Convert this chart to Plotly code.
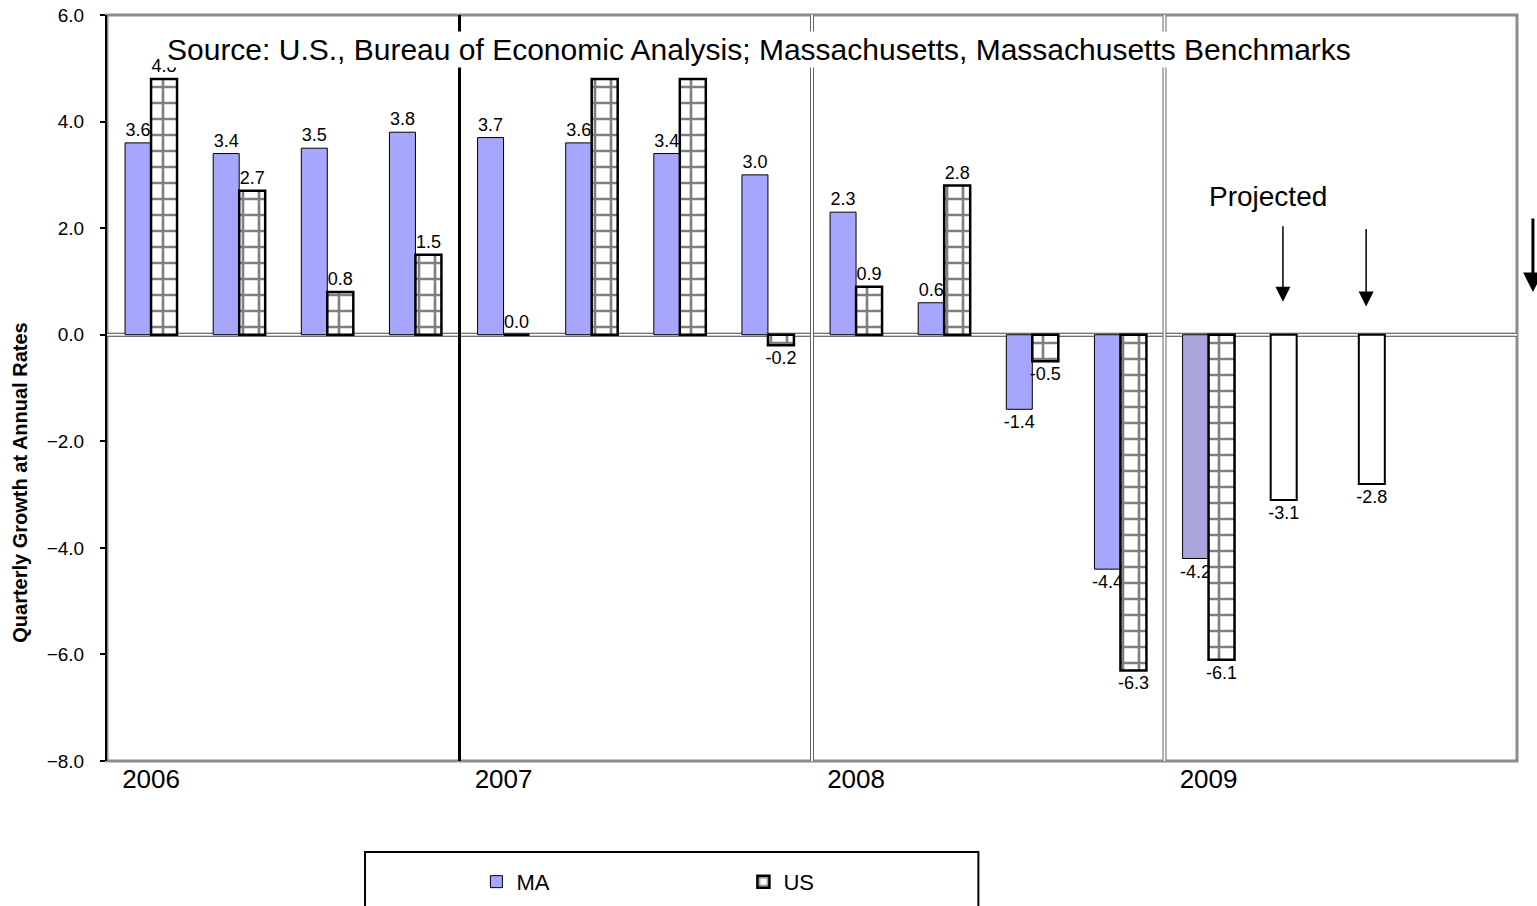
import plotly.graph_objects as go

quarters = ["2006 Q1", "2006 Q2", "2006 Q3", "2006 Q4",
            "2007 Q1", "2007 Q2", "2007 Q3", "2007 Q4",
            "2008 Q1", "2008 Q2", "2008 Q3", "2008 Q4",
            "2009 Q1", "2009 Q2", "2009 Q3", "2009 Q4"]
ma_values = [3.6, 3.4, 3.5, 3.8, 3.7, 3.6, 3.4, 3.0, 2.3, 0.6, -1.4, -4.4, -4.2, -3.1, -2.8, None]
us_values = [4.8, 2.7, 0.8, 1.5, 0.0, 4.8, 4.8, -0.2, 0.9, 2.8, -0.5, -6.3, -6.1, None, None, None]
us_labels = ["4.8", "2.7", "0.8", "1.5", "0.0", "", "", "-0.2", "0.9", "2.8", "-0.5", "-6.3", "-6.1", "", "", ""]
year_ticks = ["2006 Q1", "2007 Q1", "2008 Q1", "2009 Q1"]
year_labels = ["2006", "2007", "2008", "2009"]

ma_colors = ["#A6A6FF"] * 12 + ["#A9A5DC", "#FFFFFF", "#FFFFFF", "#FFFFFF"]
ma_line_w = [1] * 13 + [2, 2, 2]
ma_labels = ["" if v is None else f"{v:.1f}" for v in ma_values]

FONT = "Liberation Sans, Arial, sans-serif"

fig = go.Figure()
fig.add_trace(go.Bar(
    name="MA", x=quarters, y=ma_values, text=ma_labels,
    textposition="outside", constraintext="none", cliponaxis=False,
    textfont=dict(size=18, color="black", family=FONT),
    marker=dict(color=ma_colors, line=dict(color="black", width=ma_line_w)),
))
fig.add_trace(go.Bar(
    name="US", x=quarters, y=us_values, text=us_labels,
    textposition="outside", constraintext="none", cliponaxis=False,
    textfont=dict(size=18, color="black", family=FONT),
    marker=dict(color="white", line=dict(color="black", width=2.5),
                pattern=dict(shape="+", fgcolor="black", bgcolor="white",
                             size=16, solidity=0.3, fillmode="overlay")),
))

shapes = []
shapes.append(dict(type="rect", xref="paper", yref="paper", x0=0, x1=1, y0=0, y1=1,
                   line=dict(color="#8C8C8C", width=3), layer="below"))
shapes.append(dict(type="line", xref="paper", yref="y", x0=0, x1=1, y0=0, y1=0,
                   line=dict(color="#444444", width=4), layer="below"))
shapes.append(dict(type="line", xref="paper", yref="y", x0=0, x1=1, y0=0, y1=0,
                   line=dict(color="white", width=2), layer="below"))
shapes.append(dict(type="line", xref="x", yref="paper", x0=3.5, x1=3.5, y0=0, y1=1,
                   line=dict(color="black", width=3), layer="below"))
for xv in (7.5, 11.5):
    shapes.append(dict(type="line", xref="x", yref="paper", x0=xv, x1=xv, y0=0, y1=1,
                       line=dict(color="#666666", width=4), layer="below"))
    shapes.append(dict(type="line", xref="x", yref="paper", x0=xv, x1=xv, y0=0, y1=1,
                       line=dict(color="white", width=2), layer="below"))
shapes.append(dict(type="rect", xref="paper", yref="paper", x0=0.183, x1=0.618,
                   y0=-0.21, y1=-0.122, line=dict(color="black", width=2),
                   fillcolor="white", layer="below"))

annotations = [
    dict(text="Source: U.S., Bureau of Economic Analysis; Massachusetts, Massachusetts Benchmarks",
         xref="paper", yref="y", x=0.041, y=5.35, xanchor="left", yanchor="middle",
         showarrow=False, bgcolor="white", font=dict(size=30, color="black", family=FONT)),
    dict(text="Projected", xref="paper", yref="y", x=0.867, y=2.6, showarrow=False,
         font=dict(size=28, color="black", family=FONT)),
    dict(text="", xref="paper", yref="y", x=0.834, y=0.62, ax=0, ay=-77,
         showarrow=True, arrowhead=2, arrowsize=2.0, arrowwidth=1.5, arrowcolor="black"),
    dict(text="", xref="paper", yref="y", x=0.893, y=0.53, ax=0, ay=-79,
         showarrow=True, arrowhead=2, arrowsize=2.0, arrowwidth=1.5, arrowcolor="black"),
    dict(text="", xref="paper", yref="y", x=1.0113, y=0.8, ax=0, ay=-75,
         showarrow=True, arrowhead=2, arrowsize=1.3, arrowwidth=3, arrowcolor="black"),
    dict(text="<b>Quarterly Growth at Annual Rates</b>", xref="paper", yref="paper",
         x=-0.0617, y=0.373, xanchor="center", yanchor="middle", textangle=-90,
         showarrow=False, font=dict(size=20, color="black", family=FONT)),
]

fig.update_layout(
    width=1537, height=906,
    margin=dict(l=107, r=20, t=15, b=145, autoexpand=False),
    paper_bgcolor="white", plot_bgcolor="white",
    barmode="group", bargap=0.41, bargroupgap=0.0,
    font=dict(family=FONT, color="black"),
    shapes=shapes, annotations=annotations,
    showlegend=True,
    legend=dict(orientation="h", x=0.262, xanchor="left", y=-0.162, yanchor="middle",
                font=dict(size=22, color="black", family=FONT),
                entrywidth=222, entrywidthmode="pixels",
                bgcolor="rgba(0,0,0,0)", borderwidth=0),
    xaxis=dict(type="category", categoryorder="array", categoryarray=quarters,
               tickmode="array", tickvals=year_ticks, ticktext=year_labels,
               tickfont=dict(size=26, color="black", family=FONT),
               showgrid=False, zeroline=False, showline=False, ticks="",
               range=[-0.5, 15.5], automargin=False),
    yaxis=dict(range=[-8, 6], dtick=2, tick0=0, tickformat=".1f",
               tickfont=dict(size=19, color="black", family=FONT),
               showgrid=False, zeroline=False, showline=True, linecolor="black",
               linewidth=2, ticks="outside", ticklen=5, tickcolor="black",
               tickwidth=2, ticklabelstandoff=12, automargin=False),
)

fig.write_html("out.html", include_plotlyjs=True,
               config={"displayModeBar": False},
               post_script="document.body.style.margin='0';document.body.style.overflow='hidden';")
